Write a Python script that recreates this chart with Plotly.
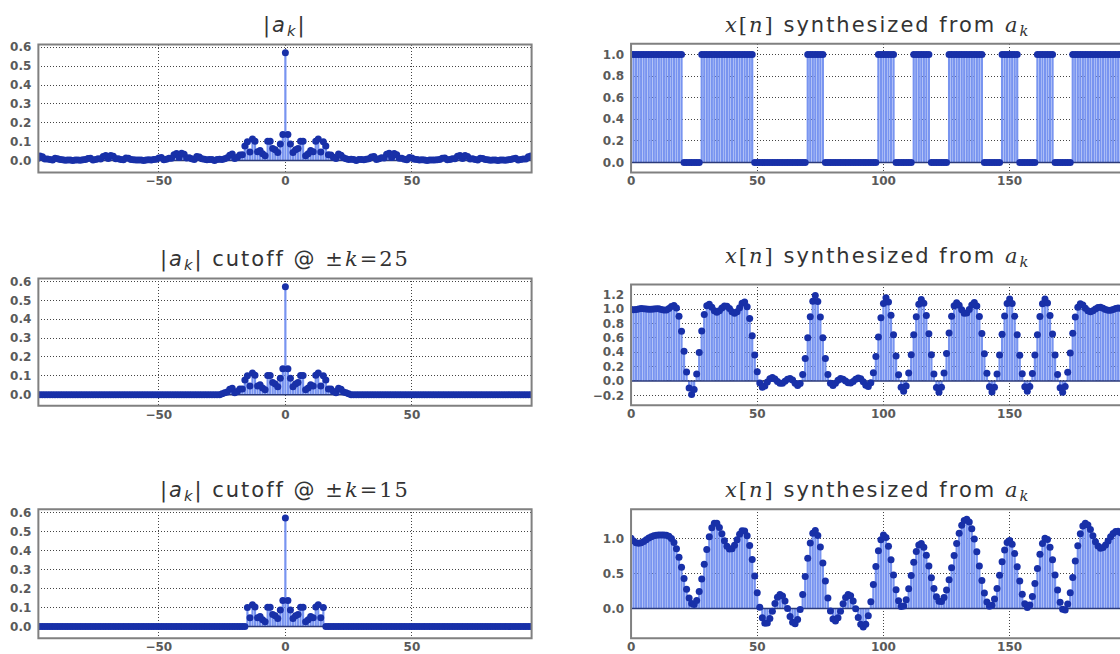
import numpy as np
import plotly.graph_objects as go

# Test signal: each bit is held for SAMPLES_PER_BIT samples (one period, N = 196)
BITS = [1, 1, 1, 0, 1, 1, 1, 0, 0, 0, 1, 0, 0, 0, 1, 0, 1, 0, 1, 1, 0, 1, 0, 1, 0, 1, 1, 1]
SAMPLES_PER_BIT = 7
# Harmonic cutoffs for each row (None = keep every coefficient)
CUTOFFS = [None, 25, 15]

SP = "letter-spacing:2px"
LEFT_TITLES = [
    f"<span style='{SP}'>|<i>a</i><sub><i>k</i></sub>|</span>",
    f"<span style='{SP}'>|<i>a</i><sub><i>k</i></sub>| cutoff @ </span>"
    f"<span style='font-family:DejaVu Serif;{SP}'>±<i>k</i>=25</span>",
    f"<span style='{SP}'>|<i>a</i><sub><i>k</i></sub>| cutoff @ </span>"
    f"<span style='font-family:DejaVu Serif;{SP}'>±<i>k</i>=15</span>",
]
RIGHT_TITLE = (f"<span style='font-family:DejaVu Serif;{SP}'><i>x</i>[<i>n</i>]</span>"
               f"<span style='{SP}'> synthesized from </span>"
               f"<span style='font-family:DejaVu Serif;{SP}'><i>a</i><sub><i>k</i></sub></span>")

# y tick values for each panel
LEFT_YTICKS = [0.0, 0.1, 0.2, 0.3, 0.4, 0.5, 0.6]
RIGHT_YTICKS = [
    [0.0, 0.2, 0.4, 0.6, 0.8, 1.0],
    [-0.2, 0.0, 0.2, 0.4, 0.6, 0.8, 1.0, 1.2],
    [0.0, 0.5, 1.0],
]
LEFT_YRANGES = [[-0.063, 0.614], [-0.059, 0.616], [-0.061, 0.617]]
RIGHT_YRANGES = [[-0.092, 1.10], [-0.338, 1.342], [-0.424, 1.414]]

# ---- signal and Fourier coefficients ----
x_n = np.repeat(BITS, SAMPLES_PER_BIT).astype(float)
N = len(x_n)
n = np.arange(N)
k = np.arange(N)
k[k >= N // 2] -= N
a = np.fft.fft(x_n) / N

# ---- page geometry (pixels) ----
W, H = 1120, 654
LEFT_X = (34.5, 529.5)
RIGHT_X0 = 629.3
PX_PER_N = 2.533
ROW_BOXES_L = [(41, 170), (277, 405.5), (510, 640)]
ROW_BOXES_R = [(40, 170), (283, 405), (510, 640)]
LEFT_TITLE_Y = [22, 258, 492]
RIGHT_TITLE_Y = [22, 255, 492]
LEFT_TITLE_X = 282
RIGHT_TITLE_X = 877

STEM_COLOR = "#7894f0"
MARK_COLOR = "#1830a8"
BASE_COLOR = "#2b3a7a"
FRAME_COLOR = "#808080"
GRID_COLOR = "#444444"
TICK_FONT = dict(family="DejaVu Sans", size=12, color="#5a5a5a", weight="bold")
TITLE_FONT = dict(family="DejaVu Sans", size=21, color="#333333")


def px_x(p):
    return p / W


def px_y(p):
    return 1 - p / H


def stem_traces(xs, ys, xa, ya):
    sx, sy = [], []
    for xv, yv in zip(xs, ys):
        sx += [xv, xv, None]
        sy += [0.0, yv, None]
    stems = go.Scatter(x=sx, y=sy, mode="lines", xaxis=xa, yaxis=ya,
                       line=dict(color=STEM_COLOR, width=2.2), hoverinfo="skip",
                       showlegend=False)
    base = go.Scatter(x=[min(xs) - 5, max(xs) + 5], y=[0, 0], mode="lines", xaxis=xa, yaxis=ya,
                      line=dict(color=BASE_COLOR, width=1.5), hoverinfo="skip", showlegend=False)
    marks = go.Scatter(x=list(xs), y=list(ys), mode="markers", xaxis=xa, yaxis=ya,
                       marker=dict(color=MARK_COLOR, size=7, line=dict(width=0)),
                       showlegend=False)
    return [stems, base, marks]


fig = go.Figure()
layout = dict(width=W, height=H, margin=dict(l=0, r=0, t=0, b=0),
              paper_bgcolor="white", plot_bgcolor="white", showlegend=False)
shapes = []
annotations = []

order = np.argsort(k)
for row, K in enumerate(CUTOFFS):
    ak = a.copy()
    if K is not None:
        ak[np.abs(k) > K] = 0
    x_syn = np.real(np.fft.ifft(ak * N))
    mag = np.abs(ak)

    li = 2 * row + 1
    ri = 2 * row + 2
    lx, ly = f"x{li}", f"y{li}"
    rx, ry = f"x{ri}", f"y{ri}"

    for tr in stem_traces(k[order], mag[order], lx, ly):
        fig.add_trace(tr)
    for tr in stem_traces(n, x_syn, rx, ry):
        fig.add_trace(tr)

    lt, lb = ROW_BOXES_L[row]
    rt, rb = ROW_BOXES_R[row]

    common_x = dict(showgrid=True, gridcolor=GRID_COLOR, griddash="1px,2px", gridwidth=1,
                    zeroline=False, showline=False, ticks="", tickfont=TICK_FONT,
                    dtick=50, tick0=0, ticklabelstandoff=0)
    common_y = dict(showgrid=True, gridcolor=GRID_COLOR, griddash="1px,2px", gridwidth=1,
                    zeroline=False, showline=False, ticks="", tickfont=TICK_FONT,
                    tickformat=".1f", ticklabelstandoff=6)

    layout[f"xaxis{li}"] = dict(common_x, domain=[px_x(LEFT_X[0]), px_x(LEFT_X[1])],
                                range=[-97.6, 97.3], anchor=ly)
    layout[f"yaxis{li}"] = dict(common_y, domain=[px_y(lb), px_y(lt)],
                                range=LEFT_YRANGES[row], tickvals=LEFT_YTICKS, anchor=lx)
    layout[f"xaxis{ri}"] = dict(common_x, domain=[px_x(RIGHT_X0), 1.0],
                                range=[0, (W - RIGHT_X0) / PX_PER_N], anchor=ry)
    layout[f"yaxis{ri}"] = dict(common_y, domain=[px_y(rb), px_y(rt)],
                                range=RIGHT_YRANGES[row], tickvals=RIGHT_YTICKS[row], anchor=rx)

    shapes.append(dict(type="rect", xref="paper", yref="paper", layer="above",
                       x0=px_x(LEFT_X[0]), x1=px_x(LEFT_X[1]), y0=px_y(lb), y1=px_y(lt),
                       line=dict(color=FRAME_COLOR, width=2)))
    shapes.append(dict(type="rect", xref="paper", yref="paper", layer="above",
                       x0=px_x(RIGHT_X0), x1=1.2, y0=px_y(rb), y1=px_y(rt),
                       line=dict(color=FRAME_COLOR, width=2)))

    annotations.append(dict(text=LEFT_TITLES[row], xref="paper", yref="paper",
                            x=px_x(LEFT_TITLE_X), y=px_y(LEFT_TITLE_Y[row]), xanchor="center",
                            yanchor="middle", showarrow=False, font=TITLE_FONT))
    annotations.append(dict(text=RIGHT_TITLE, xref="paper", yref="paper",
                            x=px_x(RIGHT_TITLE_X), y=px_y(RIGHT_TITLE_Y[row]), xanchor="center",
                            yanchor="middle", showarrow=False, font=TITLE_FONT))

layout["shapes"] = shapes
layout["annotations"] = annotations
fig.update_layout(**layout)
fig.write_html("out.html")
